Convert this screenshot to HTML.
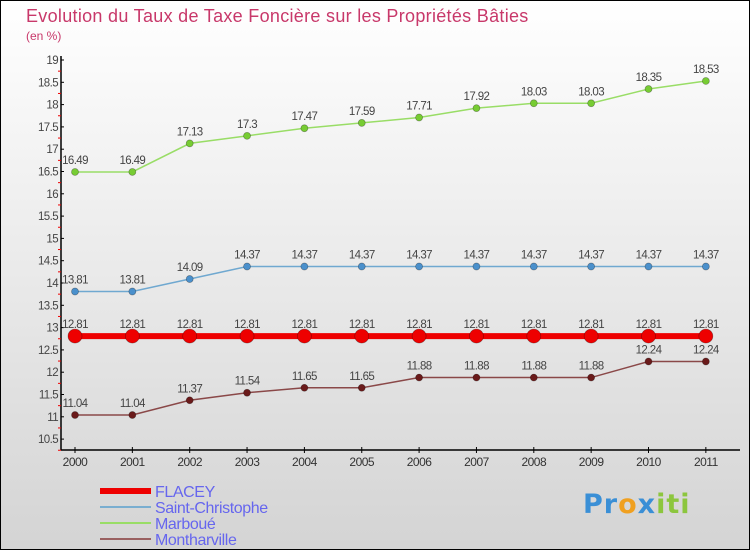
<!DOCTYPE html>
<html><head><meta charset="utf-8"><style>
body{margin:0}
#c{width:750px;height:550px;position:relative;overflow:hidden;box-sizing:border-box;border:1px solid #000;background:linear-gradient(#ffffff,#d4d4d4);font-family:"Liberation Sans",sans-serif}
</style></head><body>
<div id="c">
<svg id="s" width="750" height="550" style="position:absolute;left:-1px;top:-1px">
<text x="26" y="22" font-size="18" fill="#c8386a" letter-spacing="0.3">Evolution du Taux de Taxe Foncière sur les Propriétés Bâties</text>
<text x="26" y="40" font-size="12" fill="#c8386a">(en %)</text>
<g id="axes"></g><g id="series"></g><g id="legend"></g>
</svg>
<div style="position:absolute;left:582px;top:488px;font:bold 27px 'DejaVu Sans',sans-serif;letter-spacing:1px"><span style="color:#3a8fd6">Pr</span><span style="color:#f0a020">o</span><span style="color:#3a8fd6">x</span><span style="color:#8cc63e">iti</span></div>
</div>
<script>
const years=["2000","2001","2002","2003","2004","2005","2006","2007","2008","2009","2010","2011"];
const yTicks=[10.5,11,11.5,12,12.5,13,13.5,14,14.5,15,15.5,16,16.5,17,17.5,18,18.5,19];
const flacey=[12.81,12.81,12.81,12.81,12.81,12.81,12.81,12.81,12.81,12.81,12.81,12.81];
const saintChristophe=[13.81,13.81,14.09,14.37,14.37,14.37,14.37,14.37,14.37,14.37,14.37,14.37];
const marboue=[16.49,16.49,17.13,17.3,17.47,17.59,17.71,17.92,18.03,18.03,18.35,18.53];
const montharville=[11.04,11.04,11.37,11.54,11.65,11.65,11.88,11.88,11.88,11.88,12.24,12.24];
const NS="http://www.w3.org/2000/svg";
function X(i){return 75+i*57.35;}
function Y(v){return 60+(19-v)*44.6;}
function mk(p,t,a){const e=document.createElementNS(NS,t);for(const k in a)e.setAttribute(k,a[k]);p.appendChild(e);return e;}
const ax=document.getElementById('axes');
let l=mk(ax,'line',{x1:61,y1:56,x2:61,y2:450,stroke:'#000','stroke-width':1.5});


l=mk(ax,'line',{x1:61,y1:450,x2:740,y2:450,stroke:'#000','stroke-width':1.5});


yTicks.forEach(v=>{
 const y=Y(v);
 mk(ax,'line',{x1:61,y1:y,x2:64,y2:y,stroke:'#000'});
 mk(ax,'line',{x1:58,y1:y+11.15,x2:61,y2:y+11.15,stroke:'#e00'});
 const t=mk(ax,'text',{x:58,y:y+4,'font-size':11.5,'text-anchor':'end',fill:'#444','letter-spacing':'-0.6'});
 t.textContent=String(v);
 
 
});
years.forEach((yr,i)=>{
 mk(ax,'line',{x1:X(i),y1:447,x2:X(i),y2:453,stroke:'#000'});
 const t=mk(ax,'text',{x:X(i),y:466,'font-size':12,'text-anchor':'middle',fill:'#333','letter-spacing':'-0.5'});
 t.textContent=yr;
 
 
});
const sg=document.getElementById('series');
function series(name,data,color,w,r,dot){
 const g=mk(sg,'g',{});
 
 
 const p=mk(g,'polyline',{points:data.map((v,i)=>X(i)+','+Y(v)).join(' '),fill:'none',stroke:color,'stroke-width':w});
 
 
 data.forEach((v,i)=>{
  const c=mk(g,'circle',{cx:X(i),cy:Y(v),r:r,fill:dot,stroke:'rgba(0,0,0,0.35)','stroke-width':0.7});
  
  
  const t=mk(g,'text',{x:X(i),y:Y(v)-8,'font-size':11.5,'text-anchor':'middle',fill:'#444','letter-spacing':'-0.6'});
  t.textContent=String(v);
  
  
 });
}
series('marboue',marboue,'#99dd66',1.5,3.5,'#77cc33');
series('saint-christophe',saintChristophe,'#6fa8d0',1.5,3.5,'#4a90cc');
series('flacey',flacey,'#ee0000',6,7,'#ee0000');
series('montharville',montharville,'#8a4848',1.5,3.5,'#6a1a1a');
const lg=document.getElementById('legend');
const items=[["FLACEY","#ee0000",6],["Saint-Christophe","#7aaed0",2],["Marboué","#99dd66",2],["Montharville","#996060",2]];
items.forEach((it,i)=>{
 const y=491+i*16;
 const g=mk(lg,'g',{});
 
 
 mk(g,'line',{x1:100,y1:y,x2:151,y2:y,stroke:it[1],'stroke-width':it[2]});
 const t=mk(g,'text',{x:155,y:y+6,'font-size':16,fill:'#6666ee','letter-spacing':'-0.4'});
 t.textContent=it[0];
});
</script>
</body></html>
